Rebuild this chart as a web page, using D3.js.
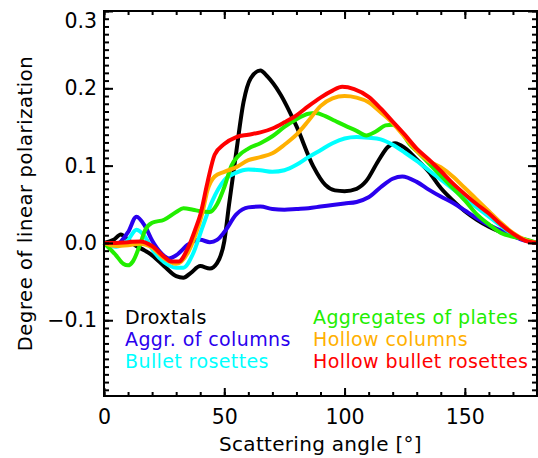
<!DOCTYPE html>
<html>
<head>
<meta charset="utf-8">
<script src="https://cdn.jsdelivr.net/npm/d3@7"></script>
<style>
  body { margin: 0; background: #fff; }
  svg { display: block; font-family: "DejaVu Sans", sans-serif; }
  .axis path, .axis line { stroke: #000; stroke-width: 2; }
  .axis text { font-size: 20.5px; fill: #000; font-family: "DejaVu Sans", sans-serif; }
</style>
</head>
<body>
<div id="chart"></div>
<script>
// degree of linear polarization vs scattering angle, one pair of arrays per habit
const droxtalsAngle = [0,4,7,10,13,17,20,25,30,33,36,40,44,47,50,52,55,58,61,65,68,73,80,87,92,96,100,105,109,114,118,121,125,130,135,140,145,150,155,160,165,170,175,180];
const droxtalsP = [0,0.004,0.011,0.004,-0.003,-0.010,-0.016,-0.030,-0.043,-0.045,-0.039,-0.030,-0.033,-0.026,0.002,0.050,0.118,0.182,0.213,0.223,0.215,0.194,0.151,0.099,0.075,0.068,0.067,0.070,0.080,0.106,0.124,0.129,0.123,0.108,0.092,0.071,0.055,0.041,0.030,0.021,0.014,0.009,0.004,0];

const aggColumnsAngle = [0,5,10,13.5,17,20,24,27,30,35,40,44,47,50,55,60,65,70,75,80,85,90,95,100,105,110,115,120,124,130,135,140,145,150,155,160,165,170,175,180];
const aggColumnsP = [0,-0.002,0.014,0.034,0.022,0.003,-0.014,-0.020,-0.016,-0.002,0.004,0.001,0.004,0.014,0.037,0.046,0.047,0.044,0.043,0.044,0.045,0.047,0.049,0.051,0.053,0.059,0.072,0.083,0.086,0.079,0.069,0.060,0.052,0.042,0.032,0.023,0.016,0.009,0.003,0];

const bulletAngle = [0,5,10,13.5,17,20,25,30,33,37,41,45,50,55,60,65,70,75,80,85,90,95,100,105,110,115,120,125,130,135,140,145,150,155,160,165,170,175,180];
const bulletP = [0,-0.005,0.004,0.017,0.008,-0.008,-0.025,-0.032,-0.032,-0.014,0.021,0.054,0.081,0.091,0.095,0.094,0.092,0.094,0.101,0.111,0.120,0.129,0.135,0.137,0.136,0.134,0.127,0.117,0.106,0.094,0.082,0.070,0.058,0.046,0.034,0.022,0.011,0.004,0];

const aggPlatesAngle = [0,5,8,10,12,15,17,20,25,30,33,37,40,44,47,50,53,56,60,65,70,75,80,85,88,92,96,100,105,109,113,117,120,124,127,131,135,140,145,150,155,160,165,170,175,180];
const aggPlatesP = [0,-0.016,-0.027,-0.029,-0.024,-0.002,0.016,0.026,0.030,0.040,0.045,0.043,0.041,0.040,0.050,0.072,0.100,0.113,0.122,0.129,0.138,0.150,0.160,0.167,0.168,0.164,0.158,0.152,0.145,0.139,0.144,0.152,0.153,0.142,0.128,0.116,0.103,0.087,0.071,0.055,0.037,0.024,0.013,0.008,0.005,0];

const hollowColAngle = [0,5,10,15,20,25,30,35,38,41,43,46,50,55,60,65,70,75,80,85,90,95,100,105,110,115,120,125,130,135,140,145,150,155,160,165,170,175,180];
const hollowColP = [0,-0.004,-0.003,-0.001,-0.006,-0.020,-0.027,-0.012,0.010,0.040,0.068,0.086,0.092,0.098,0.107,0.111,0.116,0.127,0.140,0.158,0.177,0.187,0.190,0.188,0.182,0.169,0.155,0.137,0.119,0.106,0.098,0.086,0.071,0.056,0.041,0.026,0.013,0.004,0];

const hollowBulletAngle = [0,5,10,15,20,25,28,31,35,38,40,43,46,50,55,60,65,70,75,80,85,90,95,99,104,110,115,120,125,130,135,140,145,150,155,160,165,170,175,180];
const hollowBulletP = [0,0,0.001,0.002,-0.004,-0.018,-0.024,-0.024,-0.006,0.018,0.036,0.078,0.114,0.128,0.137,0.140,0.143,0.148,0.156,0.165,0.177,0.188,0.197,0.202,0.199,0.189,0.174,0.157,0.140,0.122,0.108,0.093,0.077,0.063,0.050,0.038,0.024,0.012,0.003,0];

const seriesNames = ["Droxtals", "Aggr. of columns", "Bullet rosettes", "Aggregates of plates", "Hollow columns", "Hollow bullet rosettes"];
const seriesColors = ["#000000", "#2a00ee", "#00ffff", "#22ee00", "#ffb000", "#ff0000"];

const xTicks = [0, 50, 100, 150];
const yTicks = [-0.1, 0.0, 0.1, 0.2, 0.3];

(() => {
  const width = 538, height = 458;
  const margin = {left: 104, right: 1, top: 11, bottom: 62};

  const svg = d3.select("#chart").append("svg")
    .attr("width", width)
    .attr("height", height);

  const x = d3.scaleLinear().domain([0, 180]).range([margin.left, width - margin.right]);
  const y = d3.scaleLinear().domain([-0.198, 0.3]).range([height - margin.bottom, margin.top]);

  const series = [
    [droxtalsAngle, droxtalsP],
    [aggColumnsAngle, aggColumnsP],
    [bulletAngle, bulletP],
    [aggPlatesAngle, aggPlatesP],
    [hollowColAngle, hollowColP],
    [hollowBulletAngle, hollowBulletP]
  ].map(([a, p], i) => ({
    name: seriesNames[i],
    color: seriesColors[i],
    values: a.map((d, j) => ({angle: d, p: p[j]}))
  }));

  const line = d3.line()
    .x(d => x(d.angle))
    .y(d => y(d.p))
    .curve(d3.curveMonotoneX);

  // curves
  svg.append("g").selectAll("path")
    .data(series)
    .enter().append("path")
    .attr("fill", "none")
    .attr("stroke", d => d.color)
    .attr("stroke-width", 4)
    .attr("stroke-linejoin", "round")
    .attr("d", d => line(d.values));

  const x0 = x.range()[0], x1 = x.range()[1];
  const y0 = y.range()[0], y1 = y.range()[1];

  // minor ticks every 10 deg / 0.01
  const xMinor = d3.range(0, 181, 10);
  const yMinor = d3.range(-19, 31).map(d => d / 100);

  const drawAxis = (gen, tx, ty) => svg.append("g")
    .attr("class", "axis")
    .attr("transform", `translate(${tx},${ty})`)
    .call(gen)
    .call(g => g.select(".domain").remove());

  drawAxis(d3.axisBottom(x).tickValues(xMinor).tickSize(-4).tickFormat(""), 0, y0);
  drawAxis(d3.axisBottom(x).tickValues(xTicks).tickSize(-8).tickPadding(13).tickFormat(d3.format("d")), 0, y0);
  drawAxis(d3.axisTop(x).tickValues(xMinor).tickSize(-4).tickFormat(""), 0, y1);
  drawAxis(d3.axisTop(x).tickValues(xTicks).tickSize(-8).tickFormat(""), 0, y1);

  drawAxis(d3.axisLeft(y).tickValues(yMinor).tickSize(-5).tickFormat(""), x0, 0);
  drawAxis(d3.axisLeft(y).tickValues(yTicks).tickSize(-9).tickPadding(7)
    .tickFormat(d => d < 0 ? "\u2212" + Math.abs(d).toFixed(1) : d.toFixed(1)), x0, 0);
  drawAxis(d3.axisRight(y).tickValues(yMinor).tickSize(-5).tickFormat(""), x1, 0);
  drawAxis(d3.axisRight(y).tickValues(yTicks).tickSize(-9).tickFormat(""), x1, 0);

  // the top label sits inside the frame, as in the original
  svg.selectAll(".axis .tick text")
    .filter(d => d === 0.3)
    .attr("dy", "0.78em");

  // frame
  svg.append("rect")
    .attr("x", x0).attr("y", y1)
    .attr("width", x1 - x0).attr("height", y0 - y1)
    .attr("fill", "none").attr("stroke", "#000").attr("stroke-width", 2);

  // axis titles
  svg.append("text")
    .attr("x", (x0 + x1) / 2)
    .attr("y", 451)
    .attr("text-anchor", "middle")
    .attr("font-size", 20)
    .attr("letter-spacing", 0.3)
    .text("Scattering angle [\u00b0]");

  svg.append("text")
    .attr("transform", `translate(32,${(y0 + y1) / 2}) rotate(-90)`)
    .attr("text-anchor", "middle")
    .attr("font-size", 19.5)
    .attr("letter-spacing", 0.6)
    .text("Degree of linear polarization");

  // legend, two columns of three
  svg.append("g").selectAll("text")
    .data(series)
    .enter().append("text")
    .attr("x", (d, i) => i < 3 ? 125 : 313)
    .attr("y", (d, i) => 324 + (i % 3) * 21.8)
    .attr("font-size", 19)
    .attr("letter-spacing", 0.4)
    .attr("fill", d => d.color)
    .text(d => d.name);
})();
</script>
</body>
</html>
